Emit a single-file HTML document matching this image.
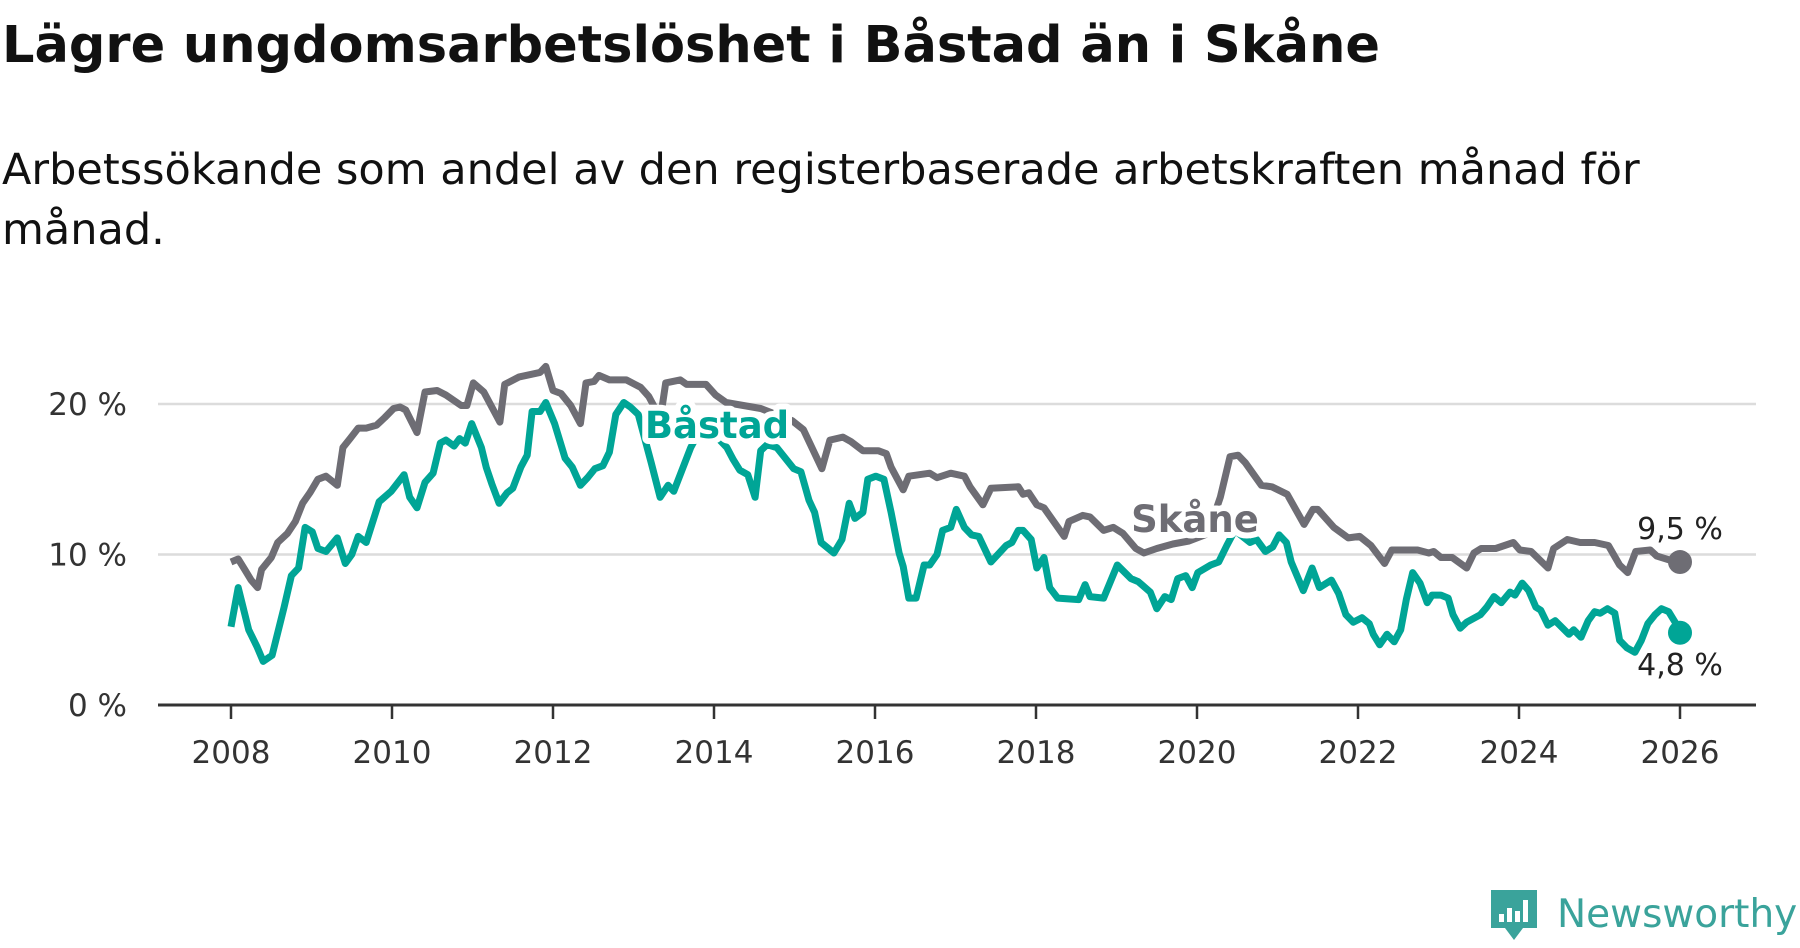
<!DOCTYPE html>
<html><head><meta charset="utf-8">
<style>
html,body{margin:0;padding:0;background:#fff;width:1800px;height:948px;overflow:hidden}
svg{display:block}
text{font-family:"DejaVu Sans","Liberation Sans",sans-serif}
</style></head>
<body>
<svg id="chart" width="1800" height="948" viewBox="0 0 1800 948">
  <text x="2" y="62" font-size="51" font-weight="bold" fill="#111">Lägre ungdomsarbetslöshet i Båstad än i Skåne</text>
  <text x="2" y="184" font-size="43" fill="#111">Arbetssökande som andel av den registerbaserade arbetskraften månad för</text>
  <text x="2" y="244" font-size="43" fill="#111">månad.</text>
  <g id="grid"></g>
  <g id="yaxis"></g>
  <g id="xaxis"></g>
  <g id="series"></g>
  <g id="labels"></g>
  <g>
    <path d="M1491 890 h46 v38 h-14 l-9 12 l-9 -12 h-14 z" fill="#3aa39b"/>
    <rect x="1499" y="914" width="5" height="8" fill="#fff"/>
    <rect x="1507" y="908" width="5" height="14" fill="#fff"/>
    <rect x="1515" y="911" width="5" height="11" fill="#fff"/>
    <rect x="1523" y="900" width="5" height="22" fill="#fff"/>
    <text x="1557" y="927" font-size="39" font-family="Liberation Sans, sans-serif" fill="#3aa39b">Newsworthy</text>
  </g>
</svg>
<script>
const yTicks = [0, 10, 20];
const yTickLabels = ["0 %", "10 %", "20 %"];
const xTicks = [2008, 2010, 2012, 2014, 2016, 2018, 2020, 2022, 2024, 2026];
const skaneDates = [2008.0,2008.09,2008.17,2008.25,2008.33,2008.38,2008.5,2008.58,2008.7,2008.8,2008.89,2008.98,2009.08,2009.18,2009.32,2009.39,2009.48,2009.58,2009.68,2009.81,2009.91,2010.02,2010.1,2010.17,2010.31,2010.41,2010.56,2010.67,2010.86,2010.93,2011.01,2011.14,2011.34,2011.4,2011.58,2011.84,2011.91,2012.0,2012.1,2012.22,2012.34,2012.41,2012.51,2012.57,2012.7,2012.91,2013.09,2013.19,2013.27,2013.33,2013.4,2013.58,2013.66,2013.9,2014.02,2014.15,2014.58,2014.97,2015.11,2015.34,2015.44,2015.6,2015.7,2015.85,2016.04,2016.14,2016.2,2016.35,2016.42,2016.68,2016.77,2016.94,2017.11,2017.18,2017.34,2017.44,2017.78,2017.84,2017.91,2018.01,2018.1,2018.35,2018.41,2018.58,2018.67,2018.84,2018.96,2019.08,2019.24,2019.34,2019.5,2019.7,2019.9,2020.1,2020.2,2020.29,2020.41,2020.51,2020.6,2020.8,2020.93,2021.12,2021.33,2021.44,2021.5,2021.7,2021.88,2022.02,2022.16,2022.33,2022.42,2022.74,2022.88,2022.94,2023.03,2023.17,2023.35,2023.44,2023.53,2023.71,2023.93,2024.01,2024.15,2024.36,2024.43,2024.6,2024.76,2024.94,2025.11,2025.25,2025.35,2025.45,2025.63,2025.71,2025.89,2026.0];
const skaneValues = [9.5,9.7,9.0,8.3,7.8,9.0,9.8,10.8,11.4,12.2,13.4,14.1,15.0,15.2,14.6,17.1,17.7,18.4,18.4,18.6,19.1,19.7,19.8,19.6,18.1,20.8,20.9,20.6,19.9,19.9,21.4,20.8,18.8,21.3,21.8,22.1,22.5,20.9,20.7,19.9,18.7,21.4,21.5,21.9,21.6,21.6,21.1,20.5,19.7,18.9,21.4,21.6,21.3,21.3,20.6,20.1,19.7,18.9,18.3,15.7,17.6,17.8,17.5,16.9,16.9,16.7,15.8,14.3,15.2,15.4,15.1,15.4,15.2,14.5,13.3,14.4,14.5,14.0,14.1,13.3,13.1,11.2,12.2,12.6,12.5,11.6,11.8,11.4,10.4,10.1,10.4,10.7,10.9,11.3,12.4,13.8,16.5,16.6,16.1,14.6,14.5,14.0,12.0,13.0,13.0,11.8,11.1,11.2,10.6,9.4,10.3,10.3,10.1,10.2,9.8,9.8,9.1,10.1,10.4,10.4,10.8,10.3,10.2,9.1,10.4,11.0,10.8,10.8,10.6,9.3,8.8,10.2,10.3,9.9,9.6,9.5];
const bastadDates = [2008.0,2008.09,2008.22,2008.32,2008.4,2008.51,2008.66,2008.75,2008.84,2008.92,2009.01,2009.08,2009.18,2009.32,2009.42,2009.5,2009.58,2009.68,2009.75,2009.84,2009.99,2010.15,2010.22,2010.31,2010.41,2010.51,2010.6,2010.67,2010.77,2010.84,2010.91,2010.99,2011.11,2011.17,2011.24,2011.33,2011.43,2011.5,2011.6,2011.68,2011.74,2011.84,2011.91,2012.02,2012.15,2012.24,2012.34,2012.43,2012.52,2012.62,2012.7,2012.78,2012.88,2012.96,2013.06,2013.22,2013.33,2013.43,2013.5,2013.71,2013.85,2014.0,2014.16,2014.24,2014.32,2014.42,2014.51,2014.58,2014.66,2014.78,2014.99,2015.08,2015.18,2015.25,2015.33,2015.49,2015.59,2015.68,2015.75,2015.85,2015.91,2016.01,2016.11,2016.2,2016.3,2016.35,2016.42,2016.51,2016.61,2016.68,2016.77,2016.84,2016.94,2017.01,2017.11,2017.2,2017.29,2017.44,2017.63,2017.7,2017.78,2017.84,2017.94,2018.01,2018.1,2018.17,2018.27,2018.53,2018.61,2018.67,2018.84,2019.01,2019.18,2019.27,2019.42,2019.5,2019.6,2019.68,2019.76,2019.86,2019.94,2020.01,2020.17,2020.27,2020.37,2020.47,2020.66,2020.74,2020.85,2020.94,2021.02,2021.11,2021.17,2021.32,2021.43,2021.52,2021.67,2021.76,2021.85,2021.94,2022.05,2022.14,2022.19,2022.27,2022.36,2022.45,2022.53,2022.6,2022.68,2022.77,2022.86,2022.92,2023.03,2023.12,2023.18,2023.27,2023.35,2023.52,2023.6,2023.69,2023.78,2023.89,2023.95,2024.04,2024.12,2024.21,2024.27,2024.36,2024.45,2024.62,2024.68,2024.77,2024.86,2024.94,2025.01,2025.1,2025.19,2025.25,2025.34,2025.44,2025.52,2025.6,2025.69,2025.77,2025.86,2025.95,2026.0];
const bastadValues = [5.2,7.8,5.0,3.9,2.9,3.3,6.5,8.6,9.1,11.8,11.5,10.4,10.2,11.1,9.4,10.0,11.2,10.8,12.0,13.5,14.2,15.3,13.8,13.1,14.8,15.4,17.4,17.6,17.2,17.7,17.4,18.7,17.1,15.8,14.7,13.4,14.1,14.4,15.8,16.6,19.5,19.5,20.1,18.7,16.4,15.8,14.6,15.1,15.7,15.9,16.8,19.3,20.1,19.8,19.3,16.1,13.8,14.6,14.2,17.1,18.5,18.0,17.1,16.3,15.6,15.3,13.8,16.9,17.3,17.1,15.7,15.5,13.6,12.8,10.8,10.1,11.0,13.4,12.4,12.8,15.0,15.2,15.0,12.8,10.1,9.2,7.1,7.1,9.3,9.3,10.0,11.6,11.8,13.0,11.8,11.3,11.2,9.5,10.6,10.8,11.6,11.6,11.0,9.1,9.8,7.8,7.1,7.0,8.0,7.2,7.1,9.3,8.4,8.2,7.5,6.4,7.2,7.0,8.4,8.6,7.8,8.8,9.3,9.5,10.6,11.6,10.8,11.0,10.2,10.5,11.3,10.8,9.5,7.6,9.1,7.8,8.3,7.4,6.0,5.5,5.8,5.4,4.7,4.0,4.7,4.2,5.0,7.0,8.8,8.1,6.8,7.3,7.3,7.1,6.0,5.1,5.5,6.0,6.5,7.2,6.8,7.5,7.3,8.1,7.6,6.5,6.3,5.3,5.6,4.7,5.0,4.5,5.6,6.2,6.1,6.4,6.1,4.3,3.8,3.5,4.3,5.4,6.0,6.4,6.2,5.4,4.8];

const NS = "http://www.w3.org/2000/svg";
const X0 = 158, X1 = 1756;
function xScale(y){ return 231 + (y - 2008) * 80.5; }
function yScale(v){ return 705 - v * 15.05; }
function mk(tag, attrs, parent){ const e = document.createElementNS(NS, tag); for (const k in attrs) e.setAttribute(k, attrs[k]); parent.appendChild(e); return e; }

const grid = document.getElementById('grid');
const yaxis = document.getElementById('yaxis');
yTicks.forEach((t, i) => {
  if (t > 0) {
    const l = mk('line', {x1: X0, x2: X1, y1: yScale(t), y2: yScale(t), stroke: '#dcdcdc', 'stroke-width': 2.5}, grid);
    
    
  }
  const tx = mk('text', {x: 127, y: yScale(t) + 11, 'text-anchor': 'end', 'font-size': 31, fill: '#333'}, yaxis);
  tx.textContent = yTickLabels[i];
  
  
});
const xaxis = document.getElementById('xaxis');
const ax = mk('line', {x1: X0, x2: X1, y1: 705, y2: 705, stroke: '#333', 'stroke-width': 3}, xaxis);


xTicks.forEach(t => {
  const tk = mk('line', {x1: xScale(t), x2: xScale(t), y1: 705, y2: 719, stroke: '#333', 'stroke-width': 2.5}, xaxis);
  
  
  const tx = mk('text', {x: xScale(t), y: 763, 'text-anchor': 'middle', 'font-size': 31, fill: '#333'}, xaxis);
  tx.textContent = String(t);
  
  
});

const series = document.getElementById('series');
function drawLine(dates, vals, color, name){
  const d = dates.map((t, i) => (i ? 'L' : 'M') + xScale(t).toFixed(1) + ' ' + yScale(vals[i]).toFixed(1)).join(' ');
  const p = mk('path', {d: d, fill: 'none', stroke: color, 'stroke-width': 7, 'stroke-linejoin': 'round'}, series);
  
  
  const n = dates.length - 1;
  const c = mk('circle', {cx: xScale(dates[n]), cy: yScale(vals[n]), r: 12, fill: color}, series);
  
  
}
drawLine(skaneDates, skaneValues, '#6e6d74', 'skane-line');
drawLine(bastadDates, bastadValues, '#00a596', 'bastad-line');

const labels = document.getElementById('labels');
function lbl(txt, x, y, size, color, weight, name, halo){
  if (halo) {
    const h = mk('text', {x: x, y: y, 'text-anchor': 'middle', 'font-size': size, 'font-weight': weight, fill: '#fff', stroke: '#fff', 'stroke-width': 12, 'stroke-linejoin': 'round'}, labels);
    h.textContent = txt;
    
    
  }
  const t = mk('text', {x: x, y: y, 'text-anchor': 'middle', 'font-size': size, 'font-weight': weight, fill: color}, labels);
  t.textContent = txt;
  
  
}
lbl('Båstad', 717, 438, 37, '#00a596', 'bold', 'bastad-label', true);
lbl('Skåne', 1195, 532, 37, '#6e6d74', 'bold', 'skane-label', true);
const nS = skaneValues.length - 1, nB = bastadValues.length - 1;
lbl(skaneValues[nS].toFixed(1).replace('.', ',') + ' %', xScale(skaneDates[nS]), yScale(skaneValues[nS]) - 23, 30, '#222', 'normal', 'skane-end-value', true);
lbl(bastadValues[nB].toFixed(1).replace('.', ',') + ' %', xScale(bastadDates[nB]), yScale(bastadValues[nB]) + 42, 30, '#222', 'normal', 'bastad-end-value', true);
</script>
</body></html>
